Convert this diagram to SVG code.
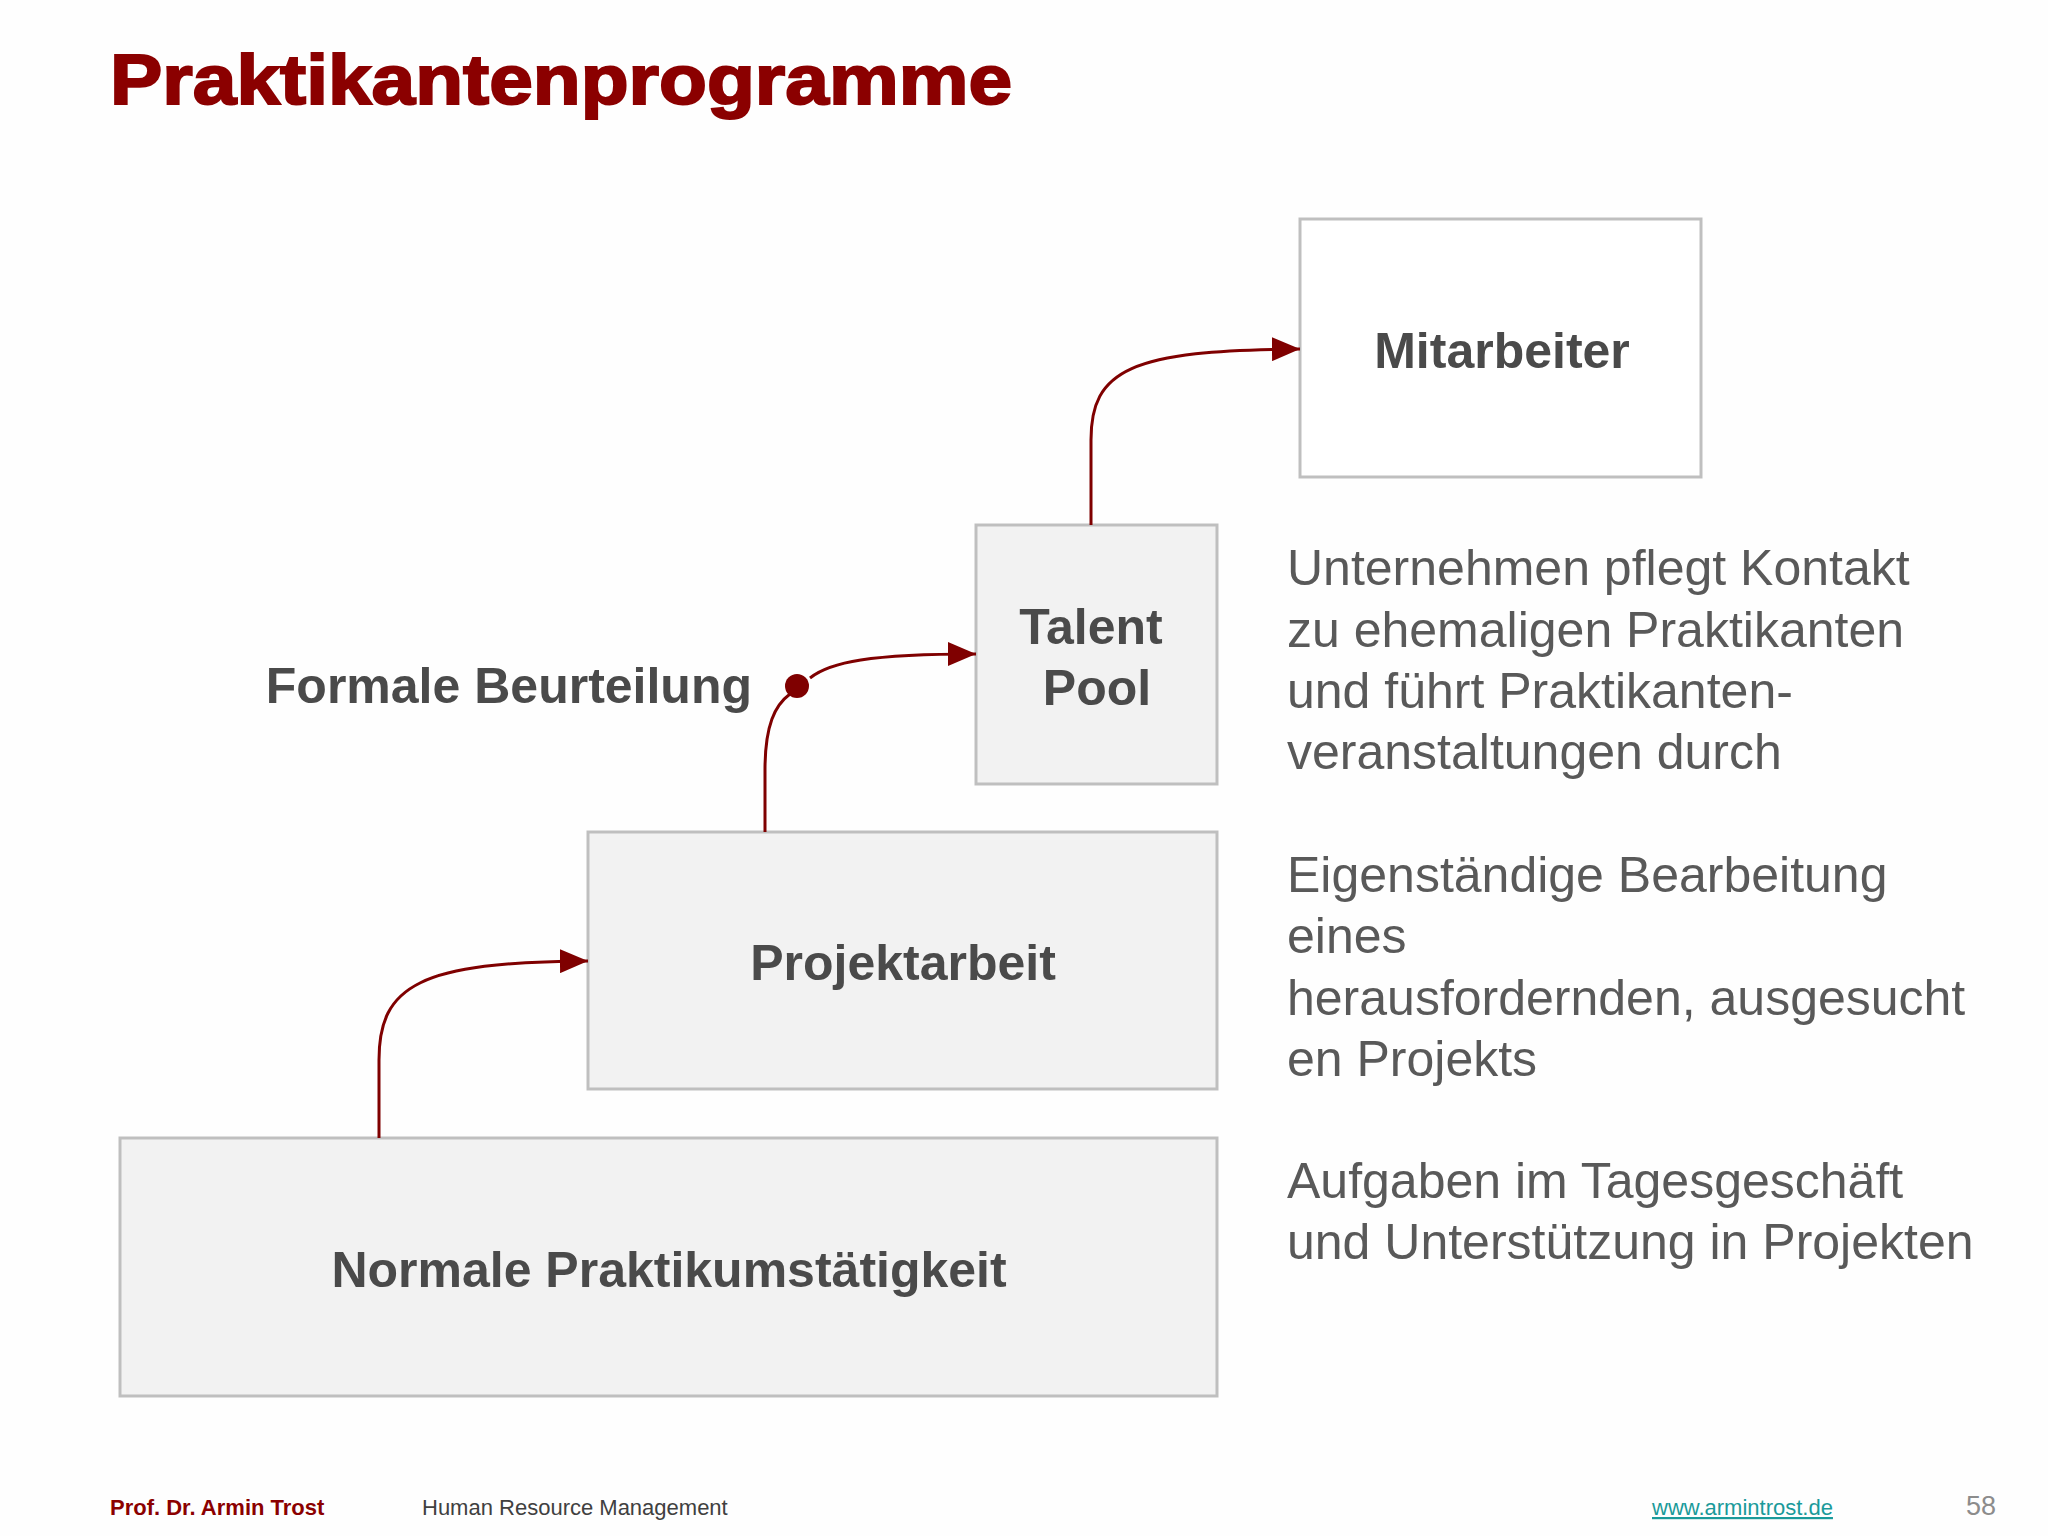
<svg xmlns="http://www.w3.org/2000/svg" width="2048" height="1536" viewBox="0 0 2048 1536">
<style>
.box{stroke:#bfbfbf;stroke-width:3}
.lbl{font-family:"Liberation Sans",Arial,sans-serif;font-weight:bold;font-size:50px;fill:#4a4a4a;text-anchor:middle}
.desc{font-family:"Liberation Sans",Arial,sans-serif;font-size:50px;fill:#595959}
.con{fill:none;stroke:#7f0000;stroke-width:3}
</style>
<defs>
<marker id="arr" markerWidth="28" markerHeight="24" refX="28" refY="12" orient="auto" markerUnits="userSpaceOnUse" viewBox="0 0 28 24">
<path d="M0,0 L28,12 L0,24 z" fill="#7f0000"/>
</marker>
</defs>
<rect width="2048" height="1536" fill="#fefefe"/>
<text x="110" y="104" font-family="'Liberation Sans',Arial,sans-serif" font-weight="900" font-size="70" fill="#8b0000" stroke="#8b0000" stroke-width="2" textLength="902" lengthAdjust="spacingAndGlyphs">Praktikantenprogramme</text>
<g id="mitarbeiter"><rect class="box" x="1300" y="219" width="401" height="258" fill="#ffffff"/><text class="lbl" x="1502" y="368">Mitarbeiter</text></g>
<g id="talentpool"><rect class="box" x="976" y="525" width="241" height="259" fill="#f2f2f2"/><text class="lbl" x="1091" y="644">Talent</text><text class="lbl" x="1097" y="705">Pool</text></g>
<g id="projektarbeit"><rect class="box" x="588" y="832" width="629" height="257" fill="#f2f2f2"/><text class="lbl" x="903" y="980">Projektarbeit</text></g>
<g id="normale"><rect class="box" x="120" y="1138" width="1097" height="258" fill="#f2f2f2"/><text class="lbl" x="669" y="1287">Normale Praktikumstätigkeit</text></g>
<g id="formale"><text class="lbl" x="752" y="703" style="text-anchor:end">Formale Beurteilung</text><circle cx="797" cy="686" r="12" fill="#7f0000"/></g>
<g id="connectors">
<path class="con" d="M379,1138 L379,1060 C379,985 420,962 588,961" marker-end="url(#arr)"/>
<path class="con" d="M765,832 L765,770 C765,725 775,705 790,694"/>
<path class="con" d="M810,678 C830,662 870,654 976,654" marker-end="url(#arr)"/>
<path class="con" d="M1091,525 L1091,440 C1091,370 1130,350 1300,349" marker-end="url(#arr)"/>
</g>
<g id="descriptions">
<text class="desc" x="1287" y="585">Unternehmen pflegt Kontakt</text>
<text class="desc" x="1287" y="647">zu ehemaligen Praktikanten</text>
<text class="desc" x="1287" y="708">und führt Praktikanten-</text>
<text class="desc" x="1287" y="769">veranstaltungen durch</text>
<text class="desc" x="1287" y="892">Eigenständige Bearbeitung</text>
<text class="desc" x="1287" y="953">eines</text>
<text class="desc" x="1287" y="1015">herausfordernden, ausgesucht</text>
<text class="desc" x="1287" y="1076">en Projekts</text>
<text class="desc" x="1287" y="1198">Aufgaben im Tagesgeschäft</text>
<text class="desc" x="1287" y="1259">und Unterstützung in Projekten</text>
</g>
<g id="footer" font-family="'Liberation Sans',Arial,sans-serif">
<text x="110" y="1515" font-size="22" font-weight="bold" fill="#8b0000">Prof. Dr. Armin Trost</text>
<text x="422" y="1515" font-size="22" fill="#404040">Human Resource Management</text>
<text x="1652" y="1515" font-size="22" fill="#1a9a9a" text-decoration="underline">www.armintrost.de</text>
<text x="1966" y="1515" font-size="27" fill="#8c8c8c">58</text>
</g>
</svg>
